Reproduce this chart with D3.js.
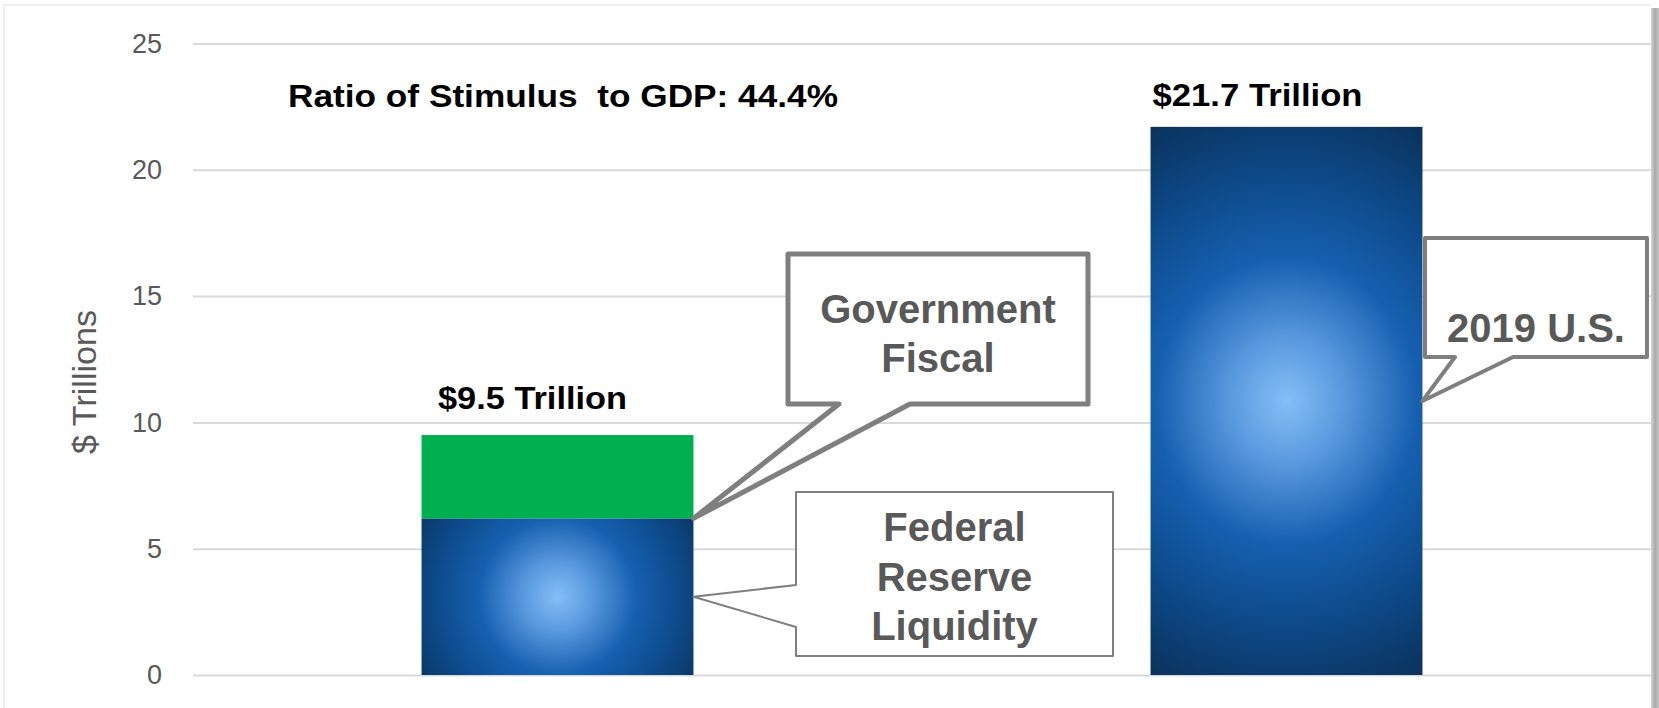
<!DOCTYPE html>
<html>
<head>
<meta charset="utf-8">
<script src="https://cdn.jsdelivr.net/npm/d3@7"></script>
<style>
    body { margin: 0; background: #fff; }
    text { font-family: 'Liberation Sans', Arial, sans-serif; }
</style>
</head>
<body>
<div id="chart-area"></div>
<script>

// DATA
// =================
var categories = ['Stimulus', '2019 U.S. GDP'];
var fedLiquidity = [6.2, 0];
var govFiscal = [3.3, 0];
var usGdp = [0, 21.7];
var yTicks = [0, 5, 10, 15, 20, 25];
var totalLabels = ['$9.5 Trillion', '$21.7 Trillion'];
var ratioText = 'Ratio of Stimulus  to GDP: 44.4%';
var axisTitle = '$ Trillions';

// CANVAS + MARGINS
// =================
var W = 1659, H = 708;
var margin = { left: 193, right: 8, top: 43.5, bottom: 33 };
var width = W - margin.left - margin.right;
var height = H - margin.top - margin.bottom;

var svg = d3.select('#chart-area')
    .append('svg')
        .attr('width', W)
        .attr('height', H);

var defs = svg.append('defs');

var sh = defs.append('linearGradient')
    .attr('id', 'shadow')
    .attr('x1', 0).attr('x2', 1).attr('y1', 0).attr('y2', 0);
sh.append('stop').attr('offset', '0%').attr('stop-color', '#d6d6d6');
sh.append('stop').attr('offset', '50%').attr('stop-color', '#a9a9a9');
sh.append('stop').attr('offset', '100%').attr('stop-color', '#c4c4c4');

// frame
svg.append('path')
    .attr('d', 'M4,708 V5 H1651')
    .attr('fill', 'none')
    .attr('stroke', '#f0f0f0')
    .attr('stroke-width', 2);
svg.append('rect')
    .attr('x', 1651).attr('y', 8)
    .attr('width', 8).attr('height', H - 8)
    .attr('fill', 'url(#shadow)');

var g = svg.append('g')
    .attr('transform', 'translate(' + margin.left + ', ' + margin.top + ')');

// SCALES
// =================
var x = d3.scaleBand()
    .domain(categories)
    .range([0, width])
    .paddingInner(0.627)
    .paddingOuter(0.3135);

var y = d3.scaleLinear()
    .domain([0, 25])
    .range([height, 0]);

// GRID + AXIS
// =================
var yAxisCall = d3.axisLeft(y)
    .tickValues(yTicks)
    .tickSize(-width)
    .tickPadding(31);

var yAxis = g.append('g')
    .attr('class', 'y axis')
    .call(yAxisCall);
yAxis.select('.domain').remove();
yAxis.selectAll('line')
    .attr('stroke', '#d9d9d9')
    .attr('stroke-width', 2);
yAxis.selectAll('text')
    .attr('fill', '#595959')
    .attr('font-size', '27px')
    .style('font-family', "'Liberation Sans', Arial, sans-serif");

g.append('text')
    .attr('class', 'y axis-label')
    .attr('x', -(y(11.6)))
    .attr('y', -97)
    .attr('font-size', '33px')
    .attr('fill', '#595959')
    .attr('text-anchor', 'middle')
    .attr('textLength', 144)
    .attr('lengthAdjust', 'spacingAndGlyphs')
    .attr('transform', 'rotate(-90)')
    .text(axisTitle);

// BARS
// =================
var rows = categories.map(function (c, i) {
    return { cat: c, fed: fedLiquidity[i], fiscal: govFiscal[i], gdp: usGdp[i] };
});
var stack = d3.stack().keys(['fed', 'fiscal', 'gdp']);
var series = stack(rows);

// one radial glow per blue segment, centred on it
var glowStops = [
    [0, '#84bff5'], [0.2, '#5898de'], [0.45, '#1660b0'], [0.7, '#0d4a8a'], [1, '#0a3058']
];
var glowR = { fed: [175, 1], gdp: [290, 1.1] };

function glowFor(key, d) {
    var id = 'glow-' + key;
    var x0 = x(d.data.cat), x1 = x0 + x.bandwidth();
    var cx = (x0 + x1) / 2, cy = (y(d[0]) + y(d[1])) / 2;
    var r = glowR[key];
    var gr = defs.append('radialGradient')
        .attr('id', id)
        .attr('gradientUnits', 'userSpaceOnUse')
        .attr('cx', 0).attr('cy', 0).attr('r', r[0])
        .attr('gradientTransform', 'translate(' + cx + ',' + cy + ') scale(1,' + r[1] + ')');
    gr.selectAll('stop')
        .data(glowStops)
        .enter()
        .append('stop')
            .attr('offset', function (s) { return s[0]; })
            .attr('stop-color', function (s) { return s[1]; });
    return 'url(#' + id + ')';
}

g.selectAll('g.series')
    .data(series)
    .enter()
    .append('g')
        .attr('class', 'series')
    .each(function (s) {
        d3.select(this).selectAll('rect')
            .data(s.filter(function (d) { return d[1] - d[0] > 0; }))
            .enter()
            .append('rect')
                .attr('x', function (d) { return x(d.data.cat); })
                .attr('y', function (d) { return y(d[1]); })
                .attr('width', x.bandwidth())
                .attr('height', function (d) { return y(d[0]) - y(d[1]); })
                .attr('fill', function (d) {
                    return s.key === 'fiscal' ? '#00b050' : glowFor(s.key, d);
                });
    });

// LABELS
// =================
var totals = rows.map(function (r) { return r.fed + r.fiscal + r.gdp; });
var labelShift = [-25, -29];
var labelDy = [-26, -21];
var labelLen = [189, 210];

g.selectAll('text.total')
    .data(categories)
    .enter()
    .append('text')
        .attr('class', 'total')
        .attr('x', function (d, i) { return x(d) + x.bandwidth() / 2 + labelShift[i]; })
        .attr('y', function (d, i) { return y(totals[i]) + labelDy[i]; })
        .attr('text-anchor', 'middle')
        .attr('font-size', '32px')
        .attr('font-weight', 'bold')
        .attr('fill', '#000')
        .attr('textLength', function (d, i) { return labelLen[i]; })
        .attr('lengthAdjust', 'spacingAndGlyphs')
        .text(function (d, i) { return totalLabels[i]; });

g.append('text')
    .attr('x', 95)
    .attr('y', y(22.7) + 5)
    .attr('font-size', '32px')
    .attr('font-weight', 'bold')
    .attr('fill', '#000')
    .attr('textLength', 550)
    .attr('lengthAdjust', 'spacingAndGlyphs')
    .style('white-space', 'pre')
    .text(ratioText);

// CALLOUTS
// =================
function callout(box, base, tip, sw, lines, lineY) {
    var cg = svg.append('g');
    var p = d3.path();
    var x0 = box[0], y0 = box[1], x1 = box[2], y1 = box[3];
    p.moveTo(x0, y0);
    p.lineTo(x1, y0);
    p.lineTo(x1, y1);
    if (base.side === 'bottom') {
        p.lineTo(base.b, y1);
        p.lineTo(tip[0], tip[1]);
        p.lineTo(base.a, y1);
        p.lineTo(x0, y1);
        p.closePath();
    } else {
        p.lineTo(x0, y1);
        p.lineTo(x0, base.b);
        p.lineTo(tip[0], tip[1]);
        p.lineTo(x0, base.a);
        p.closePath();
    }
    cg.append('path')
        .attr('d', p.toString())
        .attr('fill', '#fff')
        .attr('stroke', '#7f7f7f')
        .attr('stroke-width', sw)
        .attr('stroke-linejoin', 'round');
    cg.selectAll('text')
        .data(lines)
        .enter()
        .append('text')
            .attr('x', (x0 + x1) / 2)
            .attr('y', function (d, i) { return lineY[i]; })
            .attr('text-anchor', 'middle')
            .attr('font-size', '40px')
            .attr('font-weight', 'bold')
            .attr('fill', '#595959')
            .text(function (d) { return d; });
}

var bar1Right = margin.left + x(categories[0]) + x.bandwidth();
var bar2Right = margin.left + x(categories[1]) + x.bandwidth();

callout([788, 254, 1088, 404], { side: 'bottom', a: 839, b: 910 },
    [bar1Right, margin.top + y(fedLiquidity[0])], 5,
    ['Government', 'Fiscal'], [323, 372]);

callout([796, 492, 1113, 656], { side: 'left', a: 585, b: 627 },
    [bar1Right, margin.top + y(fedLiquidity[0] / 2)], 2,
    ['Federal', 'Reserve', 'Liquidity'], [541, 591, 640]);

callout([1425, 238, 1647, 357], { side: 'bottom', a: 1455, b: 1513 },
    [bar2Right, margin.top + y(usGdp[1] / 2)], 4,
    ['2019 U.S.'], [342]);

</script>
</body>
</html>
